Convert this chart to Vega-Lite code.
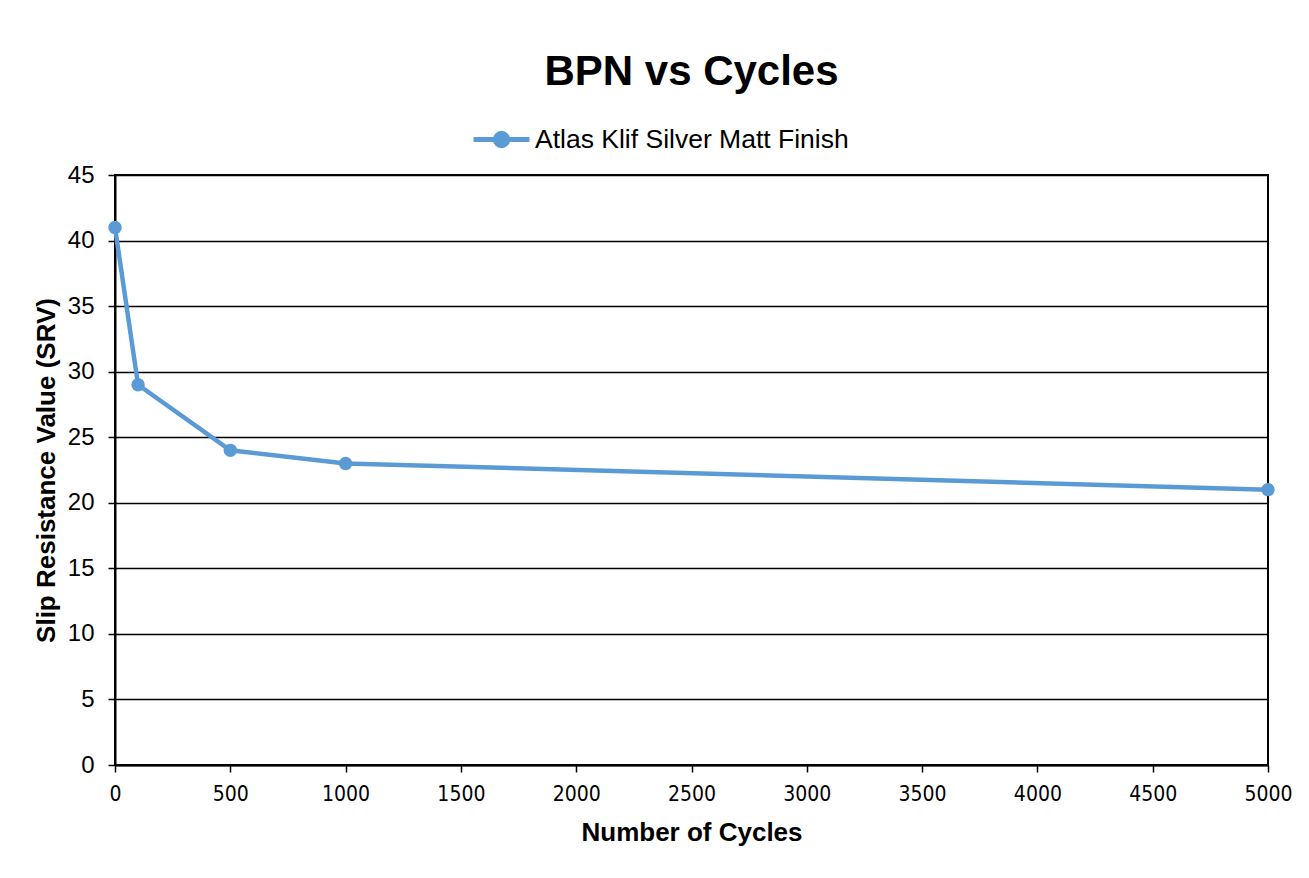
{
  "$schema": "https://vega.github.io/schema/vega-lite/v6.json",
  "width": 1153,
  "height": 590,
  "autosize": {"type": "none"},
  "padding": {"left": 115, "top": 175, "right": 41, "bottom": 113},
  "background": "white",
  "title": {
    "text": "BPN vs Cycles",
    "font": "Liberation Sans",
    "fontSize": 42,
    "fontWeight": "bold",
    "color": "black",
    "anchor": "middle",
    "frame": "group",
    "offset": 15
  },
  "data": {
    "values": [
      {"cycles": 0, "srv": 41, "series": "Atlas Klif Silver Matt Finish"},
      {"cycles": 100, "srv": 29, "series": "Atlas Klif Silver Matt Finish"},
      {"cycles": 500, "srv": 24, "series": "Atlas Klif Silver Matt Finish"},
      {"cycles": 1000, "srv": 23, "series": "Atlas Klif Silver Matt Finish"},
      {"cycles": 5000, "srv": 21, "series": "Atlas Klif Silver Matt Finish"}
    ]
  },
  "mark": {
    "type": "line",
    "strokeWidth": 4.5,
    "point": {"filled": true, "size": 180}
  },
  "encoding": {
    "x": {
      "field": "cycles",
      "type": "quantitative",
      "scale": {"domain": [0, 5000], "nice": false},
      "axis": {
        "title": "Number of Cycles",
        "values": [0, 500, 1000, 1500, 2000, 2500, 3000, 3500, 4000, 4500, 5000],
        "format": "d",
        "grid": false,
        "labelFlush": false,
        "labelFont": "DejaVu Sans Condensed",
        "labelFontSize": 21,
        "labelColor": "black",
        "labelPadding": 11,
        "tickColor": "black",
        "tickSize": 7,
        "tickWidth": 1.5,
        "domainColor": "black",
        "domainWidth": 2,
        "titleFont": "Liberation Sans",
        "titleFontSize": 26,
        "titleFontWeight": "bold",
        "titleColor": "black",
        "titlePadding": 15
      }
    },
    "y": {
      "field": "srv",
      "type": "quantitative",
      "scale": {"domain": [0, 45], "nice": false},
      "axis": {
        "title": "Slip Resistance Value (SRV)",
        "values": [0, 5, 10, 15, 20, 25, 30, 35, 40, 45],
        "grid": true,
        "labelFlush": false,
        "gridColor": "black",
        "gridWidth": 1.5,
        "gridOpacity": 1,
        "labelFont": "Liberation Sans",
        "labelFontSize": 24,
        "labelColor": "black",
        "labelPadding": 14,
        "tickColor": "black",
        "tickSize": 7,
        "tickWidth": 1.5,
        "domainColor": "black",
        "domainWidth": 2,
        "titleFont": "Liberation Sans",
        "titleFontSize": 26,
        "titleFontWeight": "bold",
        "titleColor": "black",
        "titlePadding": 8
      }
    },
    "color": {
      "field": "series",
      "type": "nominal",
      "scale": {"range": ["#5B9BD5"]},
      "legend": {
        "title": null,
        "orient": "none",
        "legendX": 356,
        "legendY": -66,
        "direction": "horizontal",
        "symbolType": "M-1,0L1,0M0.22,0A0.22,0.22,0,1,1,-0.22,0A0.22,0.22,0,1,1,0.22,0Z",
        "symbolSize": 3136,
        "symbolStrokeWidth": 5,
        "symbolFillColor": "#5B9BD5",
        "symbolStrokeColor": "#5B9BD5",
        "labelFont": "Liberation Sans",
        "labelFontSize": 26.5,
        "labelColor": "black",
        "labelOffset": 3,
        "labelLimit": 600
      }
    }
  },
  "config": {
    "view": {"stroke": "black", "strokeWidth": 2}
  }
}
